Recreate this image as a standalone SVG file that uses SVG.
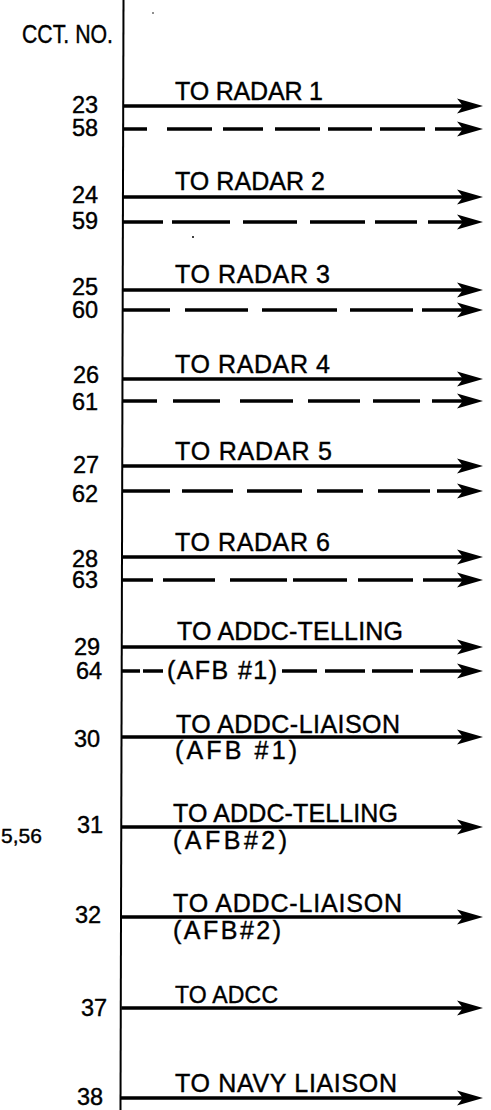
<svg xmlns="http://www.w3.org/2000/svg" xmlns:xlink="http://www.w3.org/1999/xlink" width="491" height="1110" viewBox="0 0 491 1110">
<style>
  text { font-family: "Liberation Sans", Arial, sans-serif; font-size: 25px; fill: #000; stroke: #000; stroke-width: 0.4; }
  .num { font-size: 23.5px; }
  .ln { stroke: #000; stroke-width: 3.4; fill: none; stroke-linecap: butt; }
  .vl { stroke: #000; stroke-width: 2; fill: none; }
  .ah { fill: #000; }
</style>
<defs>
  <path id="ah" class="ah" d="M0,0 L-26,-7.5 L-20,0 L-26,7.5 Z"/>
</defs>
<rect x="0" y="0" width="491" height="1110" fill="#fff"/>

<g id="header">
  <text x="22" y="43" textLength="91" lengthAdjust="spacingAndGlyphs">CCT. NO.</text>
</g>

<g id="connectors">
  <path id="bus" class="vl" d="M123.5,0 L120.5,1110"/>
  <!-- solid lines -->
  <path class="ln" d="M123,106 H470 M122.5,197 H470 M122.5,290 H470 M122.5,379 H470 M122.3,466 H470 M122,557 H470 M122,647 H470 M122,737 H470 M121.8,827 H470 M121.5,917 H470 M121.3,1008 H470 M121,1098 H470"/>
  <!-- dashed lines -->
  <path class="ln" d="M123,129 H147 M167,129 H212 M223,129 H263 M275,129 H320 M328,129 H372 M380,129 H425 M435,129 H470"/>
  <path class="ln" d="M122.5,222 H163 M172,222 H230 M243,222 H297 M310,222 H365 M375,222 H417 M428,222 H470"/>
  <path class="ln" d="M122.5,310 H170 M185,310 H248 M262,310 H337 M350,310 H413 M422,310 H470"/>
  <path class="ln" d="M122.5,401 H157 M173,401 H220 M240,401 H293 M308,401 H360 M373,401 H420 M432,401 H470"/>
  <path class="ln" d="M122.3,491 H170 M182,491 H233 M247,491 H302 M317,491 H363 M378,491 H430 M437,491 H470"/>
  <path class="ln" d="M122,580 H153 M163,580 H215 M230,580 H287 M293,580 H347 M358,580 H413 M423,580 H470"/>
  <path class="ln" d="M122,671 H140 M143,671 H163 M282,671 H317 M325,671 H365 M372,671 H413 M420,671 H470"/>
  <!-- arrowheads -->
  <use xlink:href="#ah" href="#ah" x="483" y="106"/>
  <use xlink:href="#ah" href="#ah" x="483" y="129"/>
  <use xlink:href="#ah" href="#ah" x="483" y="197"/>
  <use xlink:href="#ah" href="#ah" x="483" y="222"/>
  <use xlink:href="#ah" href="#ah" x="483" y="290"/>
  <use xlink:href="#ah" href="#ah" x="483" y="310"/>
  <use xlink:href="#ah" href="#ah" x="483" y="379"/>
  <use xlink:href="#ah" href="#ah" x="483" y="401"/>
  <use xlink:href="#ah" href="#ah" x="483" y="466"/>
  <use xlink:href="#ah" href="#ah" x="483" y="491"/>
  <use xlink:href="#ah" href="#ah" x="483" y="557"/>
  <use xlink:href="#ah" href="#ah" x="483" y="580"/>
  <use xlink:href="#ah" href="#ah" x="483" y="647"/>
  <use xlink:href="#ah" href="#ah" x="483" y="671"/>
  <use xlink:href="#ah" href="#ah" x="483" y="737"/>
  <use xlink:href="#ah" href="#ah" x="483" y="827"/>
  <use xlink:href="#ah" href="#ah" x="483" y="917"/>
  <use xlink:href="#ah" href="#ah" x="483" y="1008"/>
  <use xlink:href="#ah" href="#ah" x="483" y="1098"/>
</g>

<g id="radar1">
  <text class="num" x="72" y="113">23</text>
  <text class="num" x="72" y="136">58</text>
  <text x="175" y="100" textLength="148">TO RADAR 1</text>
</g>
<g id="radar2">
  <text class="num" x="72" y="203">24</text>
  <text class="num" x="72" y="229">59</text>
  <text x="175" y="190" textLength="150">TO RADAR 2</text>
</g>
<g id="radar3">
  <text class="num" x="72" y="295">25</text>
  <text class="num" x="72" y="318">60</text>
  <text x="175" y="283" textLength="155">TO RADAR 3</text>
</g>
<g id="radar4">
  <text class="num" x="73" y="383">26</text>
  <text class="num" x="72" y="410">61</text>
  <text x="175" y="373" textLength="155">TO RADAR 4</text>
</g>
<g id="radar5">
  <text class="num" x="73" y="473">27</text>
  <text class="num" x="72" y="502">62</text>
  <text x="175" y="460" textLength="157">TO RADAR 5</text>
</g>
<g id="radar6">
  <text class="num" x="72" y="567">28</text>
  <text class="num" x="72" y="588">63</text>
  <text x="175" y="551" textLength="155">TO RADAR 6</text>
</g>
<g id="addc-telling-1">
  <text class="num" x="74" y="655">29</text>
  <text class="num" x="76" y="679">64</text>
  <text x="177" y="640" textLength="226">TO ADDC-TELLING</text>
  <text x="167" y="679" textLength="110">(AFB #1)</text>
</g>
<g id="addc-liaison-1">
  <text class="num" x="74" y="747">30</text>
  <text x="176" y="733" textLength="224">TO ADDC-LIAISON</text>
  <text x="175" y="759" textLength="122">(AFB #1)</text>
</g>
<g id="addc-telling-2">
  <text class="num" x="77" y="833">31</text>
  <text x="173" y="822" textLength="225">TO ADDC-TELLING</text>
  <text x="173" y="849" textLength="114">(AFB#2)</text>
</g>
<g id="addc-liaison-2">
  <text class="num" x="75" y="923">32</text>
  <text x="173" y="912" textLength="229">TO ADDC-LIAISON</text>
  <text x="173" y="939" textLength="108">(AFB#2)</text>
</g>
<g id="adcc">
  <text class="num" x="81" y="1016">37</text>
  <text x="175" y="1003" textLength="103" style="font-size:23px">TO ADCC</text>
</g>
<g id="navy-liaison">
  <text class="num" x="77" y="1105">38</text>
  <text x="175" y="1092" textLength="222">TO NAVY LIAISON</text>
</g>

<g id="margin-fragment">
  <text x="1" y="843" style="font-size:21px">5,56</text>
</g>
<g id="specks" fill="#000">
  <circle cx="153" cy="13" r="0.8"/>
  <circle cx="193" cy="237" r="1"/>
</g>
</svg>
